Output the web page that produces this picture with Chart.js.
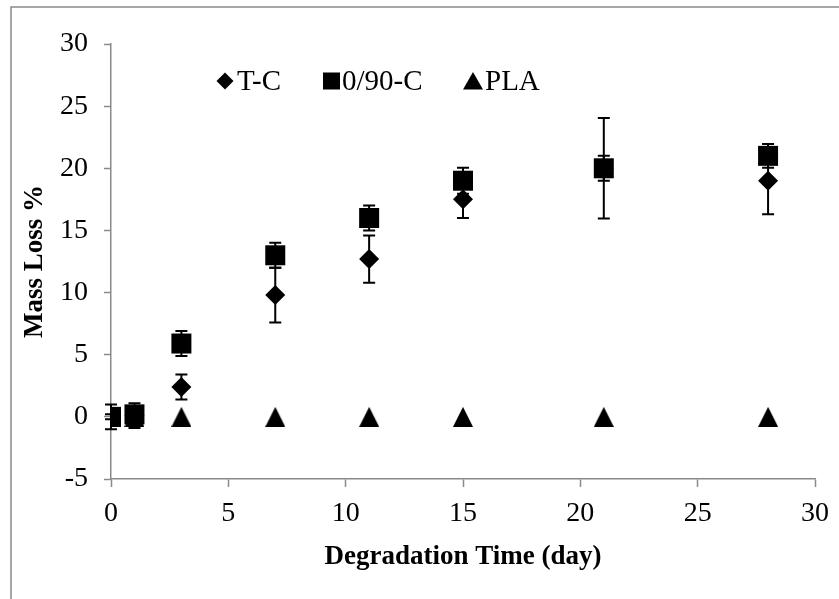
<!DOCTYPE html>
<html>
<head>
<meta charset="utf-8">
<script src="https://cdn.jsdelivr.net/npm/chart.js@4/dist/chart.umd.min.js"></script>
<style>
  html, body { margin: 0; padding: 0; background: #fff; }
  #wrap { width: 839px; height: 599px; position: relative; }
</style>
</head>
<body>
<div id="wrap"><canvas id="c" width="839" height="599"></canvas></div>
<script>
// ---- data ----
const days = [0, 1, 3, 7, 11, 15, 21, 28];
const tcValues = [0, 0.1, 2.4, 9.8, 12.7, 17.5, 20, 19];
const tcErrors = [0.2, 1.0, 1.0, 2.2, 1.9, 1.5, 1.0, 2.7];
const c90Values = [0, 0.2, 5.9, 13, 16, 19, 20, 21];
const c90Errors = [1.0, 0.4, 1.0, 1.0, 1.0, 1.05, 4.05, 0.95];
const plaValues = [0, 0, 0, 0, 0, 0, 0, 0];
const plaErrors = [0, 0, 0, 0, 0, 0, 0, 0];
const seriesNames = ['T-C', '0/90-C', 'PLA'];
const xTicks = [0, 5, 10, 15, 20, 25, 30];
const yTicks = [-5, 0, 5, 10, 15, 20, 25, 30];
const xTitle = 'Degradation Time (day)';
const yTitle = 'Mass Loss %';

const SERIF = '"Liberation Serif", "Times New Roman", serif';

function triangleImage(w, h) {
  const cv = document.createElement('canvas');
  cv.width = w; cv.height = h;
  const g = cv.getContext('2d');
  g.fillStyle = '#000';
  g.beginPath();
  g.moveTo(w / 2, 0);
  g.lineTo(w, h);
  g.lineTo(0, h);
  g.closePath();
  g.fill();
  return cv;
}
const triImg = triangleImage(20, 20);

function pts(vals, errs) {
  return days.map((d, i) => ({ x: d, y: vals[i], err: errs[i] }));
}

const errorBarPlugin = {
  id: 'errorBars',
  afterDatasetsDraw(chart) {
    const { ctx, scales: { x, y } } = chart;
    ctx.save();
    ctx.strokeStyle = '#000';
    ctx.lineWidth = 2;
    chart.data.datasets.forEach((ds) => {
      ds.data.forEach((p) => {
        if (!p.err) return;
        const px = x.getPixelForValue(p.x);
        const top = y.getPixelForValue(p.y + p.err);
        const bot = y.getPixelForValue(p.y - p.err);
        ctx.beginPath();
        ctx.moveTo(px, top); ctx.lineTo(px, bot);
        ctx.moveTo(px - 6, top); ctx.lineTo(px + 6, top);
        ctx.moveTo(px - 6, bot); ctx.lineTo(px + 6, bot);
        ctx.stroke();
      });
    });
    ctx.restore();
  }
};

const framePlugin = {
  id: 'frame',
  beforeDraw(chart) {
    const ctx = chart.ctx;
    ctx.save();
    ctx.fillStyle = '#fff';
    ctx.fillRect(0, 0, chart.width, chart.height);
    ctx.strokeStyle = '#8a8a8a';
    ctx.lineWidth = 1.5;
    ctx.beginPath();
    ctx.moveTo(11, chart.height);
    ctx.lineTo(11, 7);
    ctx.lineTo(chart.width, 7);
    ctx.stroke();
    ctx.restore();
  }
};

const legendPlugin = {
  id: 'customLegend',
  afterDraw(chart) {
    const ctx = chart.ctx;
    ctx.save();
    ctx.fillStyle = '#000';
    ctx.font = '29px ' + SERIF;
    ctx.textBaseline = 'alphabetic';
    ctx.textAlign = 'left';
    const cy = 81, base = 90;
    // diamond
    ctx.beginPath();
    ctx.moveTo(225, cy - 8.5); ctx.lineTo(233.5, cy); ctx.lineTo(225, cy + 8.5); ctx.lineTo(216.5, cy);
    ctx.closePath(); ctx.fill();
    ctx.fillText(seriesNames[0], 237, base);
    // square
    ctx.fillRect(323, cy - 8.5, 17, 17);
    ctx.fillText(seriesNames[1], 342, base);
    // triangle
    ctx.beginPath();
    ctx.moveTo(473, cy - 9); ctx.lineTo(483, cy + 8.5); ctx.lineTo(463, cy + 8.5);
    ctx.closePath(); ctx.fill();
    ctx.fillText(seriesNames[2], 485, base);
    ctx.restore();
  }
};

const axisCommon = {
  type: 'linear',
  grid: { display: true, drawOnChartArea: false, drawTicks: true, color: '#8a8a8a', tickColor: '#8a8a8a', tickWidth: 1.5 },
  border: { display: true, color: '#8a8a8a', width: 1.5 },
};

new Chart(document.getElementById('c'), {
  type: 'scatter',
  data: {
    datasets: [
      { label: seriesNames[1], data: pts(c90Values, c90Errors), pointStyle: 'rect', pointRadius: 14.14, pointHoverRadius: 14.14, backgroundColor: '#000', borderColor: '#000', borderWidth: 0, order: 0 },
      { label: seriesNames[0], data: pts(tcValues, tcErrors), pointStyle: 'rectRot', pointRadius: 10, pointHoverRadius: 10, backgroundColor: '#000', borderColor: '#000', borderWidth: 0, order: 1 },
      { label: seriesNames[2], data: pts(plaValues, plaErrors), pointStyle: triImg, pointRadius: 10, backgroundColor: '#000', borderColor: '#000', borderWidth: 0, order: 2 },
    ]
  },
  options: {
    responsive: false,
    animation: false,
    devicePixelRatio: 1,
    layout: { padding: { top: 44, right: 23, left: 0, bottom: 0 } },
    plugins: { legend: { display: false }, tooltip: { enabled: false } },
    scales: {
      x: {
        ...axisCommon,
        position: 'bottom',
        min: 0, max: 30,
        grid: { ...axisCommon.grid, tickLength: 8 },
        afterBuildTicks: (s) => { s.ticks = xTicks.map(v => ({ value: v })); },
        afterFit: (s) => { s.height = 120; },
        ticks: { color: '#000', font: { family: SERIF, size: 28 }, padding: 10, maxRotation: 0 },
        title: { display: true, text: xTitle, color: '#000', font: { family: SERIF, size: 27, weight: 'bold' }, padding: { top: 0, bottom: 26 } },
      },
      y: {
        ...axisCommon,
        position: 'left',
        min: -5, max: 30,
        grid: { ...axisCommon.grid, tickLength: 7 },
        afterBuildTicks: (s) => { s.ticks = yTicks.map(v => ({ value: v })); },
        afterFit: (s) => { s.width = 111; },
        ticks: { color: '#000', font: { family: SERIF, size: 28 }, padding: 16 },
        title: { display: true, text: yTitle, color: '#000', font: { family: SERIF, size: 27, weight: 'bold' }, padding: { top: 19, bottom: 0 } },
      }
    }
  },
  plugins: [framePlugin, errorBarPlugin, legendPlugin]
});
</script>
</body>
</html>
